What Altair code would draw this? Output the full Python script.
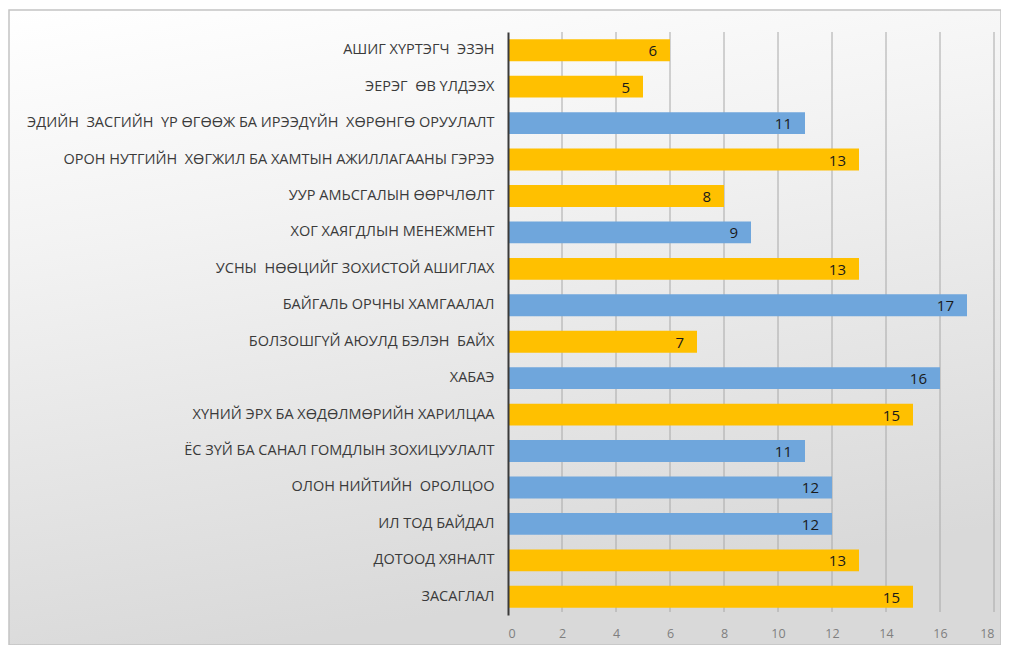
import altair as alt
import pandas as pd

NB = "\u00a0"
categories = [
    "АШИГ ХҮРТЭГЧ" + NB + " ЭЗЭН",
    "ЭЕРЭГ" + NB + " ӨВ ҮЛДЭЭХ",
    "ЭДИЙН" + NB + " ЗАСГИЙН" + NB + " ҮР ӨГӨӨЖ БА ИРЭЭДҮЙН" + NB + " ХӨРӨНГӨ ОРУУЛАЛТ",
    "ОРОН НУТГИЙН" + NB + " ХӨГЖИЛ БА ХАМТЫН АЖИЛЛАГААНЫ ГЭРЭЭ",
    "УУР АМЬСГАЛЫН ӨӨРЧЛӨЛТ",
    "ХОГ ХАЯГДЛЫН МЕНЕЖМЕНТ",
    "УСНЫ" + NB + " НӨӨЦИЙГ ЗОХИСТОЙ АШИГЛАХ",
    "БАЙГАЛЬ ОРЧНЫ ХАМГААЛАЛ",
    "БОЛЗОШГҮЙ АЮУЛД БЭЛЭН" + NB + " БАЙХ",
    "ХАБАЭ",
    "ХҮНИЙ ЭРХ БА ХӨДӨЛМӨРИЙН ХАРИЛЦАА",
    "ЁС ЗҮЙ БА САНАЛ ГОМДЛЫН ЗОХИЦУУЛАЛТ",
    "ОЛОН НИЙТИЙН" + NB + " ОРОЛЦОО",
    "ИЛ ТОД БАЙДАЛ",
    "ДОТООД ХЯНАЛТ",
    "ЗАСАГЛАЛ",
]
values = [6, 5, 11, 13, 8, 9, 13, 17, 7, 16, 15, 11, 12, 12, 13, 15]
groups = ["Y", "Y", "B", "Y", "Y", "B", "Y", "B", "Y", "B", "Y", "B", "B", "B", "Y", "Y"]

x_ticks = [0, 2, 4, 6, 8, 10, 12, 14, 16, 18]

df = pd.DataFrame({"cat": categories, "val": values, "grp": groups})
grid_df = pd.DataFrame({"t": x_ticks[1:]})

W, H = 486, 583

xscale = alt.Scale(domain=[0, 18], nice=False)

bg = alt.Chart(pd.DataFrame({"a": [0]})).mark_rect(
    stroke="#c4c4c4", strokeWidth=1.5, clip=False
).encode(
    x=alt.value(-499),
    x2=alt.value(W + 7),
    y=alt.value(-22),
    y2=alt.value(H + 30),
    color=alt.value({
        "gradient": "linear",
        "x1": 0, "y1": 0, "x2": 0.25, "y2": 1,
        "stops": [
            {"offset": 0, "color": "#ffffff"},
            {"offset": 0.35, "color": "#f3f3f3"},
            {"offset": 1, "color": "#d9d9d9"},
        ],
    }),
)

grid = alt.Chart(grid_df).mark_rule(color="#a8a8a8", strokeWidth=1).encode(
    x=alt.X("t:Q", scale=xscale),
    y=alt.value(0),
    y2=alt.value(H - 3),
)

base = alt.Chart(df).encode(
    y=alt.Y(
        "cat:N",
        sort=None,
        title=None,
        scale=alt.Scale(paddingInner=0.4, paddingOuter=0.2),
        axis=alt.Axis(
            labelFont="Open Sans",
            labelFontSize=14.5,
            labelColor="#3a3a3a",
            labelPadding=14,
            labelLimit=600,
            ticks=False,
            domainColor="#3a3a3a",
            domainWidth=2,
            grid=False,
            zindex=1,
        ),
    ),
)

bars = base.mark_bar().encode(
    x=alt.X(
        "val:Q",
        title=None,
        scale=xscale,
        axis=alt.Axis(
            values=x_ticks,
            labelFont="Open Sans",
            labelFontSize=12.5,
            labelColor="#7f7f7f",
            labelPadding=12,
            ticks=False,
            domain=False,
            grid=False,
            zindex=1,
        ),
    ),
    color=alt.Color(
        "grp:N",
        scale=alt.Scale(domain=["Y", "B"], range=["#ffc000", "#6fa6dc"]),
        legend=None,
    ),
)

labels = base.mark_text(
    align="right", baseline="middle", dx=-13, dy=1,
    font="Open Sans", fontSize=15, color="#1a1a1a",
).encode(
    x=alt.X("val:Q"),
    text=alt.Text("val:Q"),
)

chart = alt.layer(bg, grid, bars, labels).properties(
    width=W,
    height=H,
    padding={"left": 500, "top": 24, "right": 7, "bottom": 30},
    autosize=alt.AutoSizeParams(type="none"),
).configure_view(stroke=None).configure(background="white")

chart.save("out.html", embed_options={"renderer": "svg", "actions": False})
